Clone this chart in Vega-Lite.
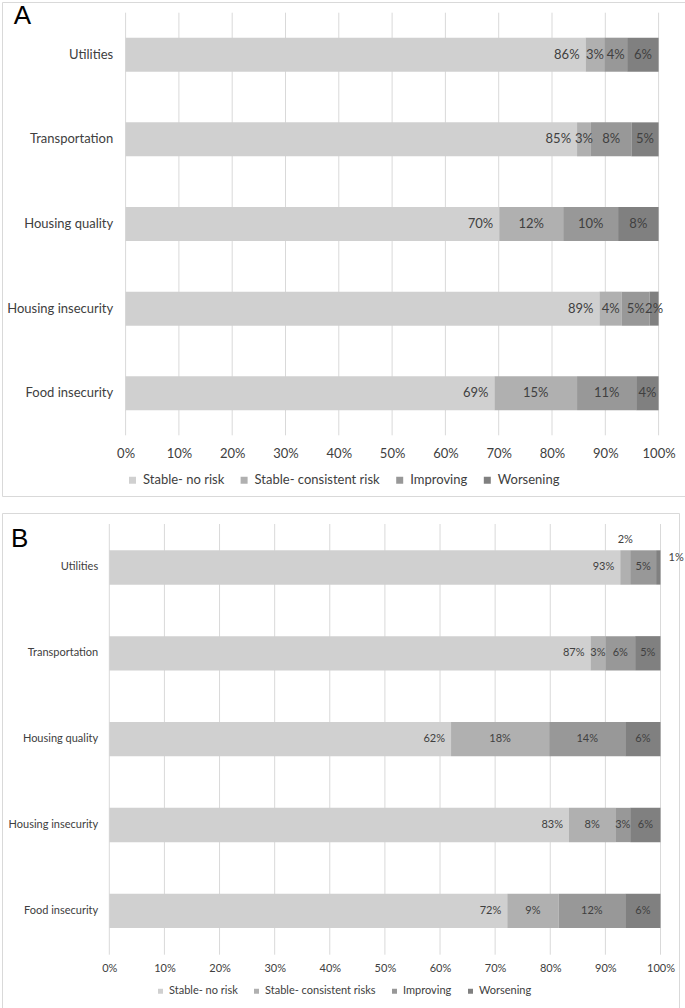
{
  "$schema": "https://vega.github.io/schema/vega-lite/v6.json",
  "padding": {"left": 1, "top": 1, "right": 0, "bottom": 0},
  "background": "white",
  "spacing": 15,
  "config": {"view": {"stroke": "#d9d9d9", "strokeWidth": 1}},
  "datasets": {
    "ticks": [{"t": 0}, {"t": 0.1}, {"t": 0.2}, {"t": 0.3}, {"t": 0.4}, {"t": 0.5}, {"t": 0.6}, {"t": 0.7}, {"t": 0.8}, {"t": 0.9}, {"t": 1}],
    "a": [
      {"cat": "Utilities", "s": "Stable- no risk", "o": 1, "v": 86.3, "lbl": "86%"},
      {"cat": "Utilities", "s": "Stable- consistent risk", "o": 2, "v": 3.5, "lbl": "3%"},
      {"cat": "Utilities", "s": "Improving", "o": 3, "v": 4.3, "lbl": "4%"},
      {"cat": "Utilities", "s": "Worsening", "o": 4, "v": 5.9, "lbl": "6%"},
      {"cat": "Transportation", "s": "Stable- no risk", "o": 1, "v": 84.7, "lbl": "85%"},
      {"cat": "Transportation", "s": "Stable- consistent risk", "o": 2, "v": 2.6, "lbl": "3%"},
      {"cat": "Transportation", "s": "Improving", "o": 3, "v": 7.6, "lbl": "8%"},
      {"cat": "Transportation", "s": "Worsening", "o": 4, "v": 5.1, "lbl": "5%"},
      {"cat": "Housing quality", "s": "Stable- no risk", "o": 1, "v": 70.1, "lbl": "70%"},
      {"cat": "Housing quality", "s": "Stable- consistent risk", "o": 2, "v": 12.0, "lbl": "12%"},
      {"cat": "Housing quality", "s": "Improving", "o": 3, "v": 10.3, "lbl": "10%"},
      {"cat": "Housing quality", "s": "Worsening", "o": 4, "v": 7.6, "lbl": "8%"},
      {"cat": "Housing insecurity", "s": "Stable- no risk", "o": 1, "v": 88.9, "lbl": "89%"},
      {"cat": "Housing insecurity", "s": "Stable- consistent risk", "o": 2, "v": 4.2, "lbl": "4%"},
      {"cat": "Housing insecurity", "s": "Improving", "o": 3, "v": 5.2, "lbl": "5%"},
      {"cat": "Housing insecurity", "s": "Worsening", "o": 4, "v": 1.7, "lbl": "2%"},
      {"cat": "Food insecurity", "s": "Stable- no risk", "o": 1, "v": 69.2, "lbl": "69%"},
      {"cat": "Food insecurity", "s": "Stable- consistent risk", "o": 2, "v": 15.5, "lbl": "15%"},
      {"cat": "Food insecurity", "s": "Improving", "o": 3, "v": 11.1, "lbl": "11%"},
      {"cat": "Food insecurity", "s": "Worsening", "o": 4, "v": 4.2, "lbl": "4%"}
    ],
    "b": [
      {"cat": "Utilities", "s": "Stable- no risk", "o": 1, "v": 92.7, "lbl": "93%"},
      {"cat": "Utilities", "s": "Stable- consistent risks", "o": 2, "v": 1.8, "lbl": "2%"},
      {"cat": "Utilities", "s": "Improving", "o": 3, "v": 4.7, "lbl": "5%"},
      {"cat": "Utilities", "s": "Worsening", "o": 4, "v": 0.8, "lbl": "1%"},
      {"cat": "Transportation", "s": "Stable- no risk", "o": 1, "v": 87.3, "lbl": "87%"},
      {"cat": "Transportation", "s": "Stable- consistent risks", "o": 2, "v": 2.7, "lbl": "3%"},
      {"cat": "Transportation", "s": "Improving", "o": 3, "v": 5.4, "lbl": "6%"},
      {"cat": "Transportation", "s": "Worsening", "o": 4, "v": 4.6, "lbl": "5%"},
      {"cat": "Housing quality", "s": "Stable- no risk", "o": 1, "v": 62.0, "lbl": "62%"},
      {"cat": "Housing quality", "s": "Stable- consistent risks", "o": 2, "v": 17.8, "lbl": "18%"},
      {"cat": "Housing quality", "s": "Improving", "o": 3, "v": 13.8, "lbl": "14%"},
      {"cat": "Housing quality", "s": "Worsening", "o": 4, "v": 6.4, "lbl": "6%"},
      {"cat": "Housing insecurity", "s": "Stable- no risk", "o": 1, "v": 83.4, "lbl": "83%"},
      {"cat": "Housing insecurity", "s": "Stable- consistent risks", "o": 2, "v": 8.4, "lbl": "8%"},
      {"cat": "Housing insecurity", "s": "Improving", "o": 3, "v": 2.7, "lbl": "3%"},
      {"cat": "Housing insecurity", "s": "Worsening", "o": 4, "v": 5.5, "lbl": "6%"},
      {"cat": "Food insecurity", "s": "Stable- no risk", "o": 1, "v": 72.2, "lbl": "72%"},
      {"cat": "Food insecurity", "s": "Stable- consistent risks", "o": 2, "v": 9.3, "lbl": "9%"},
      {"cat": "Food insecurity", "s": "Improving", "o": 3, "v": 12.1, "lbl": "12%"},
      {"cat": "Food insecurity", "s": "Worsening", "o": 4, "v": 6.4, "lbl": "6%"}
    ]
  },
  "vconcat": [
    {
      "width": 683,
      "height": 494,
      "title": {"text": "A", "anchor": "start", "frame": "group", "offset": -47.5, "baseline": "alphabetic", "dx": 11.7, "fontSize": 26, "font": "Liberation Sans", "fontWeight": "normal", "color": "#000000"},
      "layer": [
        {
          "data": {"name": "ticks"},
          "mark": {"type": "rule", "color": "#d9d9d9", "strokeWidth": 1},
          "encoding": {
            "x": {"field": "t", "type": "quantitative", "scale": {"domain": [0, 1], "range": [123.6, 656.6]},
              "axis": {"values": [0, 0.1, 0.2, 0.3, 0.4, 0.5, 0.6, 0.7, 0.8, 0.9, 1], "format": ".0%", "grid": false, "ticks": false, "tickSize": 0, "domain": false, "labelPadding": 0, "offset": -49, "title": null, "labelFont": "Lato", "labelFontSize": 13, "labelColor": "#404040", "labelFlush": false, "labelOverlap": false}},
            "y": {"datum": 0, "type": "quantitative", "scale": {"domain": [0, 1], "range": [10.7, 433.3]}, "axis": null},
            "y2": {"datum": 1}
          }
        },
        {
          "data": {"name": "a"},
          "encoding": {
            "y": {"field": "cat", "type": "nominal", "sort": ["Utilities", "Transportation", "Housing quality", "Housing insecurity", "Food insecurity"],
              "scale": {"range": [35.7, 408.3], "paddingInner": 0.598, "paddingOuter": 0},
              "axis": {"title": null, "ticks": false, "tickSize": 0, "domain": false, "grid": false, "labelPadding": 0, "offset": -110.7, "labelFont": "Lato", "labelFontSize": 13, "labelColor": "#404040"}},
            "x": {"field": "v", "type": "quantitative", "stack": "normalize", "scale": {"domain": [0, 1], "range": [123.6, 656.6]},
              "axis": {"values": [0, 0.1, 0.2, 0.3, 0.4, 0.5, 0.6, 0.7, 0.8, 0.9, 1], "format": ".0%", "grid": false, "ticks": false, "tickSize": 0, "domain": false, "labelPadding": 0, "offset": -49, "title": null, "labelFont": "Lato", "labelFontSize": 13, "labelColor": "#404040", "labelFlush": false, "labelOverlap": false}},
            "order": {"field": "o", "type": "quantitative"}
          },
          "layer": [
            {
              "mark": {"type": "bar"},
              "encoding": {
                "color": {"field": "s", "type": "nominal",
                  "scale": {"domain": ["Stable- no risk", "Stable- consistent risk", "Improving", "Worsening"], "range": ["#d0d0d0", "#b0b0b0", "#989898", "#808080"]},
                  "legend": {"title": null, "orient": "none", "legendX": 124, "legendY": 471.5, "direction": "horizontal", "columns": 4, "symbolType": "square", "symbolSize": 49, "symbolStrokeWidth": 0, "labelFont": "Lato", "labelFontSize": 13, "labelColor": "#404040", "labelOffset": 4, "columnPadding": 12.6, "padding": 0}}
              }
            },
            {
              "mark": {"type": "text", "font": "Lato", "fontSize": 13, "color": "#404040"},
              "encoding": {
                "x": {"field": "v", "type": "quantitative", "stack": "normalize", "bandPosition": 0.5, "scale": {"domain": [0, 1], "range": [123.6, 656.6]},
                  "axis": {"values": [0, 0.1, 0.2, 0.3, 0.4, 0.5, 0.6, 0.7, 0.8, 0.9, 1], "format": ".0%", "grid": false, "ticks": false, "tickSize": 0, "domain": false, "labelPadding": 0, "offset": -49, "title": null, "labelFont": "Lato", "labelFontSize": 13, "labelColor": "#404040", "labelFlush": false, "labelOverlap": false}},
                "text": {"condition": {"test": "datum.o == 1", "value": ""}, "field": "lbl", "type": "nominal"}
              }
            },
            {
              "mark": {"type": "text", "font": "Lato", "fontSize": 13, "color": "#404040", "align": "right", "dx": -6},
              "encoding": {
                "text": {"condition": {"test": "datum.o != 1", "value": ""}, "field": "lbl", "type": "nominal"}
              }
            }
          ]
        }
      ],
      "resolve": {"scale": {"y": "independent"}, "axis": {"y": "independent"}}
    },
    {
      "width": 677,
      "height": 497,
      "title": {"text": "B", "anchor": "start", "frame": "group", "offset": -60, "baseline": "alphabetic", "dx": 9, "fontSize": 26, "font": "Liberation Sans", "fontWeight": "normal", "color": "#000000"},
      "layer": [
        {
          "data": {"name": "ticks"},
          "mark": {"type": "rule", "color": "#d9d9d9", "strokeWidth": 1},
          "encoding": {
            "x": {"field": "t", "type": "quantitative", "scale": {"domain": [0, 1], "range": [107.3, 658.5]},
              "axis": {"values": [0, 0.1, 0.2, 0.3, 0.4, 0.5, 0.6, 0.7, 0.8, 0.9, 1], "format": ".0%", "grid": false, "ticks": false, "tickSize": 0, "domain": false, "labelPadding": 0, "offset": -47.8, "title": null, "labelFont": "Lato", "labelFontSize": 11, "labelColor": "#404040", "labelFlush": false, "labelOverlap": false}},
            "y": {"datum": 0, "type": "quantitative", "scale": {"domain": [0, 1], "range": [11, 441.7]}, "axis": null},
            "y2": {"datum": 1}
          }
        },
        {
          "data": {"name": "b"},
          "encoding": {
            "y": {"field": "cat", "type": "nominal", "sort": ["Utilities", "Transportation", "Housing quality", "Housing insecurity", "Food insecurity"],
              "scale": {"range": [37.3, 415], "paddingInner": 0.6, "paddingOuter": 0},
              "axis": {"title": null, "ticks": false, "tickSize": 0, "domain": false, "grid": false, "labelPadding": 0, "offset": -95.7, "labelFont": "Lato", "labelFontSize": 11, "labelColor": "#404040"}},
            "x": {"field": "v", "type": "quantitative", "stack": "normalize", "scale": {"domain": [0, 1], "range": [107.3, 658.5]},
              "axis": {"values": [0, 0.1, 0.2, 0.3, 0.4, 0.5, 0.6, 0.7, 0.8, 0.9, 1], "format": ".0%", "grid": false, "ticks": false, "tickSize": 0, "domain": false, "labelPadding": 0, "offset": -47.8, "title": null, "labelFont": "Lato", "labelFontSize": 11, "labelColor": "#404040", "labelFlush": false, "labelOverlap": false}},
            "order": {"field": "o", "type": "quantitative"}
          },
          "layer": [
            {
              "mark": {"type": "bar"},
              "encoding": {
                "color": {"field": "s", "type": "nominal",
                  "scale": {"domain": ["Stable- no risk", "Stable- consistent risks", "Improving", "Worsening"], "range": ["#d0d0d0", "#b0b0b0", "#989898", "#808080"]},
                  "legend": {"title": null, "orient": "none", "legendX": 153, "legendY": 472.5, "direction": "horizontal", "columns": 4, "symbolType": "square", "symbolSize": 25, "symbolStrokeWidth": 0, "labelFont": "Lato", "labelFontSize": 11, "labelColor": "#404040", "labelOffset": 3, "columnPadding": 13, "padding": 0}}
              }
            },
            {
              "mark": {"type": "text", "font": "Lato", "fontSize": 11, "color": "#404040"},
              "encoding": {
                "x": {"field": "v", "type": "quantitative", "stack": "normalize", "bandPosition": 0.5, "scale": {"domain": [0, 1], "range": [107.3, 658.5]},
                  "axis": {"values": [0, 0.1, 0.2, 0.3, 0.4, 0.5, 0.6, 0.7, 0.8, 0.9, 1], "format": ".0%", "grid": false, "ticks": false, "tickSize": 0, "domain": false, "labelPadding": 0, "offset": -47.8, "title": null, "labelFont": "Lato", "labelFontSize": 11, "labelColor": "#404040", "labelFlush": false, "labelOverlap": false}},
                "text": {"condition": {"test": "datum.o == 1 || (datum.cat == 'Utilities' && (datum.o == 2 || datum.o == 4))", "value": ""}, "field": "lbl", "type": "nominal"}
              }
            },
            {
              "mark": {"type": "text", "font": "Lato", "fontSize": 11, "color": "#404040", "dy": -27.5},
              "encoding": {
                "x": {"field": "v", "type": "quantitative", "stack": "normalize", "bandPosition": 0.5, "scale": {"domain": [0, 1], "range": [107.3, 658.5]},
                  "axis": {"values": [0, 0.1, 0.2, 0.3, 0.4, 0.5, 0.6, 0.7, 0.8, 0.9, 1], "format": ".0%", "grid": false, "ticks": false, "tickSize": 0, "domain": false, "labelPadding": 0, "offset": -47.8, "title": null, "labelFont": "Lato", "labelFontSize": 11, "labelColor": "#404040", "labelFlush": false, "labelOverlap": false}},
                "text": {"condition": {"test": "!(datum.cat == 'Utilities' && datum.o == 2)", "value": ""}, "field": "lbl", "type": "nominal"}
              }
            },
            {
              "mark": {"type": "text", "font": "Lato", "fontSize": 11, "color": "#404040", "align": "left", "dx": 8, "dy": -9.5},
              "encoding": {
                "text": {"condition": {"test": "!(datum.cat == 'Utilities' && datum.o == 4)", "value": ""}, "field": "lbl", "type": "nominal"}
              }
            },
            {
              "mark": {"type": "text", "font": "Lato", "fontSize": 11, "color": "#404040", "align": "right", "dx": -6},
              "encoding": {
                "text": {"condition": {"test": "datum.o != 1", "value": ""}, "field": "lbl", "type": "nominal"}
              }
            }
          ]
        }
      ],
      "resolve": {"scale": {"y": "independent"}, "axis": {"y": "independent"}}
    }
  ],
  "resolve": {"scale": {"x": "independent", "y": "independent", "color": "independent"}, "axis": {"x": "independent", "y": "independent"}, "legend": {"color": "independent"}}
}
